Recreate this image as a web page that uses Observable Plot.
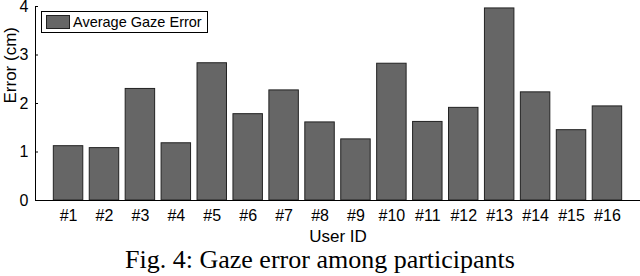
<!DOCTYPE html>
<html>
<head>
<meta charset="utf-8">
<script src="https://cdn.jsdelivr.net/npm/d3@7"></script>
<script src="https://cdn.jsdelivr.net/npm/@observablehq/plot@0.6"></script>
<style>
  html, body { margin: 0; padding: 0; background: #fff; }
  #wrap { position: relative; width: 640px; height: 276px; }
  #chart svg { display: block; }
  #legend {
    position: absolute; left: 41px; top: 11px; width: 167px; height: 22px;
    border: 1px solid #000; background: #fff; box-sizing: border-box;
    font-family: "Liberation Sans", Arial, sans-serif; font-size: 14.5px;
    display: flex; align-items: center;
  }
  #legend .sw { width: 24px; height: 14px; margin-left: 4px; margin-right: 3px; background: #666; border: 1px solid #222; box-sizing: border-box; }
  #caption {
    font-family: "Liberation Serif", "Times New Roman", serif; font-size: 26px;
    text-align: center; width: 640px; line-height: 28px; white-space: nowrap;
  }
</style>
</head>
<body>
<div id="wrap">
  <div id="chart"></div>
  <div id="caption">Fig. 4: Gaze error among participants</div>
  <div id="legend"><div class="sw"></div><span>Average Gaze Error</span></div>
</div>
<script>
const users = ["#1","#2","#3","#4","#5","#6","#7","#8","#9","#10","#11","#12","#13","#14","#15","#16"];
const errors = [1.12, 1.08, 2.30, 1.18, 2.83, 1.78, 2.27, 1.61, 1.26, 2.82, 1.62, 1.91, 3.96, 2.23, 1.45, 1.94];
const yTicks = [0, 1, 2, 3, 4];

const data = users.map((u, i) => ({user: u, error: errors[i]}));

const chart = Plot.plot({
  width: 640,
  height: 246,
  marginLeft: 35,
  marginRight: 0,
  marginTop: 6,
  marginBottom: 46,
  x: {domain: users, paddingInner: 0.18, paddingOuter: 0.51, round: false, axis: null},
  y: {domain: [0, 4], axis: null},
  style: {fontFamily: "'Liberation Sans', Arial, sans-serif", fontSize: "15px", color: "#000", background: "#fff"},
  marks: [
    Plot.barY(data, {x: "user", y: "error", fill: "#666", stroke: "#222", strokeWidth: 1}),
    Plot.axisX({tickSize: 0, tickPadding: 9, fontSize: 16, label: null}),
    Plot.axisY({ticks: yTicks, tickFormat: d3.format("d"), tickSize: -3, tickPadding: 10, fontSize: 16, label: null}),
    Plot.ruleY([0], {stroke: "#000"}),
    Plot.frame({anchor: "left", stroke: "#000"}),
    Plot.text(["User ID"], {text: d => d, frameAnchor: "bottom", dy: 41, fontSize: 17}),
    Plot.text(["Error (cm)"], {text: d => d, frameAnchor: "left", dx: -25, rotate: -90, fontSize: 17})
  ]
});
document.getElementById("chart").appendChild(chart);
</script>
</body>
</html>
